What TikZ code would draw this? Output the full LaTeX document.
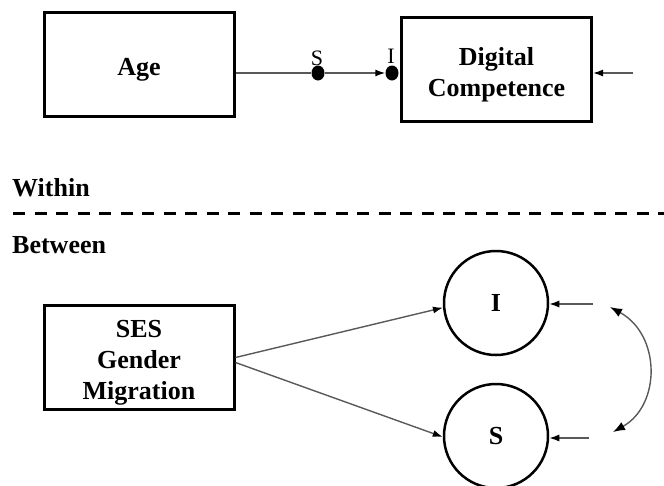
\documentclass[tikz,border=0pt]{standalone}
\usepackage{fontspec}
\setmainfont{Liberation Serif}
\usetikzlibrary{arrows.meta,shapes.geometric}

\begin{document}
\begin{tikzpicture}[x=1pt,y=-1pt,
  boxtext/.style={inner sep=0pt, align=center, yshift=-5pt,
    font=\fontsize{26}{31}\selectfont\bfseries},
  varbox/.style={draw, line width=3pt, inner sep=0pt, minimum width=190pt,
    minimum height=104pt, label={[boxtext]center:#1}},
  latent/.style={draw, circle, line width=2.5pt, minimum size=104pt,
    inner sep=0pt, font=\fontsize{26}{31}\selectfont\bfseries},
  randdot/.style={fill=black, ellipse, minimum width=13pt,
    minimum height=15pt, inner sep=0pt},
  line/.style={draw=black!65, line width=1.4pt},
  conn/.style={line, -{Latex[length=10pt,width=7pt,color=black]}},
  levellabel/.style={anchor=west, inner sep=0pt,
    font=\fontsize{26}{31}\selectfont\bfseries},
  small/.style={inner sep=0pt, font=\fontsize{22}{26}\selectfont}
]
\useasboundingbox (0,0) rectangle (664,485);

% within level
\node[varbox={Age}] (age) at (139,64.5) {};
\node[varbox={Digital\\Competence}] (dc) at (496.5,69.5) {};

\node[randdot] (sdot) at (318,73) {};
\node[randdot] (idot) at (392,73) {};
\node[small] (slab) at (317,58) {S};
\node[small] (ilab) at (391,56) {I};

\draw[line] (sdot -| age.east) -- (sdot);
\draw[conn] (sdot) -- (idot);

\coordinate (dcres) at (633,73);
\draw[conn] (dcres) -- (dcres -| dc.east);

% level separator
\node[levellabel] (within) at (12,188) {Within};
\draw[line width=3pt, dash pattern=on 12pt off 9.5pt] (13,213) -- (664,213);
\node[levellabel] (between) at (12,245) {Between};

% between level
\node[varbox={SES\\Gender\\Migration}] (cov) at (139,357.5) {};
\node[latent] (ilat) at (496,303) {I};
\node[latent] (slat) at (496,436) {S};

\draw[conn] (cov.east) -- (ilat.185);
\draw[conn] ([yshift=-5pt]cov.east) -- (slat.181);

\coordinate (ires) at (593,304);
\coordinate (sres) at (589,438);
\draw[conn] (ires) -- (ires -| ilat.east);
\draw[conn] (sres) -- (sres -| slat.east);

\coordinate (ctop) at (610,307);
\coordinate (cbot) at (613,432);
\draw[line,
  {Latex[length=12pt,width=9pt,color=black]}-{Latex[length=12pt,width=9pt,color=black]}]
  (ctop) .. controls (661,335) and (661,405) .. (cbot);
\end{tikzpicture}
\end{document}
